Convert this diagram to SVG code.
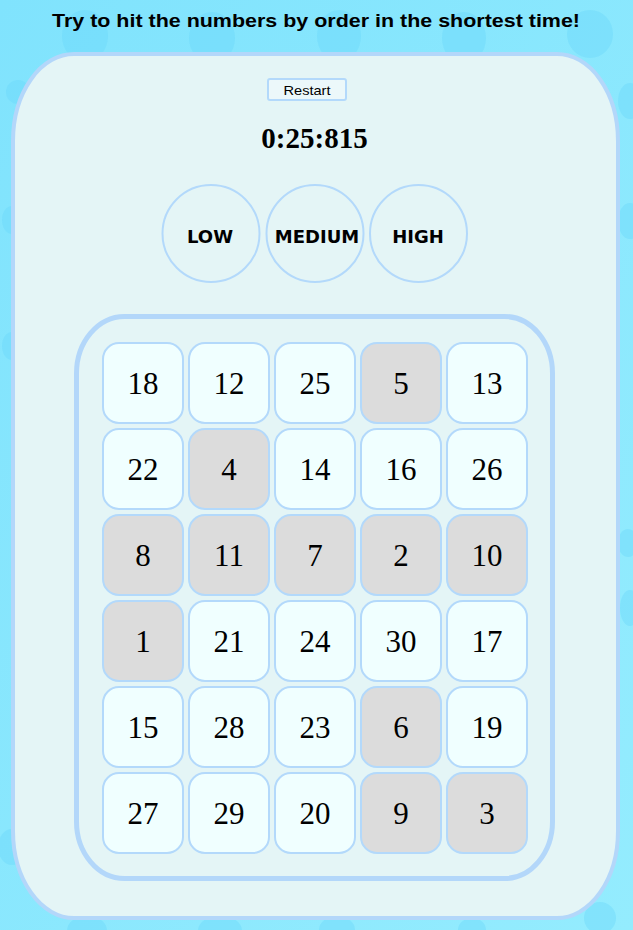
<svg xmlns="http://www.w3.org/2000/svg" width="633" height="930" viewBox="0 0 633 930">
<style>
.blob{fill:#68d6fb;opacity:0.4}
.cell rect{stroke:#b3d9fb;stroke-width:2}
.w{fill:#f0ffff}
.g{fill:#dcdcdc}
.num{font-family:"Liberation Serif","Times New Roman",serif;font-size:31px;fill:#000;text-anchor:middle}
.lvl circle{fill:none;stroke:#b3d9fb;stroke-width:2}
.lvl text{font-family:"DejaVu Sans",sans-serif;font-weight:bold;font-size:18px;fill:#000;text-anchor:middle}
</style>
<defs>
<linearGradient id="bg" x1="0" y1="0" x2="1" y2="1">
<stop offset="0" stop-color="#80e3fd"/>
<stop offset="1" stop-color="#94ecfe"/>
</linearGradient>
</defs>
<rect x="0" y="0" width="633" height="930" fill="url(#bg)"/>
<g id="background-dots">
<ellipse class="blob" cx="85" cy="36" rx="23" ry="26"/>
<ellipse class="blob" cx="212" cy="38" rx="23" ry="26"/>
<ellipse class="blob" cx="339" cy="36" rx="22" ry="26"/>
<ellipse class="blob" cx="464" cy="38" rx="22" ry="26"/>
<ellipse class="blob" cx="590" cy="34" rx="23" ry="24"/>
<ellipse class="blob" cx="18" cy="92" rx="12" ry="12"/>
<ellipse class="blob" cx="12" cy="220" rx="10" ry="14"/>
<ellipse class="blob" cx="12" cy="346" rx="10" ry="14"/>
<ellipse class="blob" cx="12" cy="847" rx="14" ry="18"/>
<ellipse class="blob" cx="630" cy="101" rx="12" ry="18"/>
<ellipse class="blob" cx="630" cy="221" rx="12" ry="18"/>
<ellipse class="blob" cx="628" cy="543" rx="10" ry="14"/>
<ellipse class="blob" cx="630" cy="608" rx="10" ry="18"/>
<ellipse class="blob" cx="87" cy="930" rx="20" ry="14"/>
<ellipse class="blob" cx="220" cy="930" rx="22" ry="14"/>
<ellipse class="blob" cx="337" cy="930" rx="18" ry="14"/>
<ellipse class="blob" cx="472" cy="930" rx="14" ry="12"/>
<ellipse class="blob" cx="600" cy="918" rx="16" ry="16"/>
</g>
<text x="316" y="27" font-family="'Comic Sans MS','Liberation Sans',sans-serif" font-weight="bold" font-size="18" text-anchor="middle" textLength="528" lengthAdjust="spacingAndGlyphs" fill="#000">Try to hit the numbers by order in the shortest time!</text>
<g id="panel">
<rect x="13" y="54" width="605" height="864" rx="61" ry="87" fill="#e4f5f6" stroke="#b3d7fa" stroke-width="4"/>
</g>
<g id="restart">
<rect x="268" y="79" width="78" height="21" rx="2" fill="#ecf8fa" stroke="#b3d9fb" stroke-width="2"/>
<text x="307" y="95" font-family="'Comic Sans MS','Liberation Sans',sans-serif" font-size="13" text-anchor="middle" textLength="47" lengthAdjust="spacingAndGlyphs" fill="#000">Restart</text>
</g>
<g id="timer">
<text x="314.5" y="148" font-family="'Liberation Serif','Times New Roman',serif" font-weight="bold" font-size="29" text-anchor="middle" fill="#000">0:25:815</text>
</g>
<g id="level-low" class="lvl"><circle cx="211" cy="233.5" r="48.5"/><text x="210" y="242.5">LOW</text></g>
<g id="level-medium" class="lvl"><circle cx="315" cy="233.5" r="48.5"/><text x="317" y="242.5">MEDIUM</text></g>
<g id="level-high" class="lvl"><circle cx="418.5" cy="233.5" r="48.5"/><text x="418" y="242.5">HIGH</text></g>
<g id="board">
<rect x="76.5" y="316.5" width="476" height="562" rx="48" ry="57" fill="none" stroke="#b3d7fa" stroke-width="5"/>
</g>
<g id="cell-18" class="cell"><rect class="w" x="103" y="343" width="80" height="80" rx="16"/><text class="num" x="143" y="394">18</text></g>
<g id="cell-12" class="cell"><rect class="w" x="189" y="343" width="80" height="80" rx="16"/><text class="num" x="229" y="394">12</text></g>
<g id="cell-25" class="cell"><rect class="w" x="275" y="343" width="80" height="80" rx="16"/><text class="num" x="315" y="394">25</text></g>
<g id="cell-5" class="cell"><rect class="g" x="361" y="343" width="80" height="80" rx="16"/><text class="num" x="401" y="394">5</text></g>
<g id="cell-13" class="cell"><rect class="w" x="447" y="343" width="80" height="80" rx="16"/><text class="num" x="487" y="394">13</text></g>
<g id="cell-22" class="cell"><rect class="w" x="103" y="429" width="80" height="80" rx="16"/><text class="num" x="143" y="480">22</text></g>
<g id="cell-4" class="cell"><rect class="g" x="189" y="429" width="80" height="80" rx="16"/><text class="num" x="229" y="480">4</text></g>
<g id="cell-14" class="cell"><rect class="w" x="275" y="429" width="80" height="80" rx="16"/><text class="num" x="315" y="480">14</text></g>
<g id="cell-16" class="cell"><rect class="w" x="361" y="429" width="80" height="80" rx="16"/><text class="num" x="401" y="480">16</text></g>
<g id="cell-26" class="cell"><rect class="w" x="447" y="429" width="80" height="80" rx="16"/><text class="num" x="487" y="480">26</text></g>
<g id="cell-8" class="cell"><rect class="g" x="103" y="515" width="80" height="80" rx="16"/><text class="num" x="143" y="566">8</text></g>
<g id="cell-11" class="cell"><rect class="g" x="189" y="515" width="80" height="80" rx="16"/><text class="num" x="229" y="566">11</text></g>
<g id="cell-7" class="cell"><rect class="g" x="275" y="515" width="80" height="80" rx="16"/><text class="num" x="315" y="566">7</text></g>
<g id="cell-2" class="cell"><rect class="g" x="361" y="515" width="80" height="80" rx="16"/><text class="num" x="401" y="566">2</text></g>
<g id="cell-10" class="cell"><rect class="g" x="447" y="515" width="80" height="80" rx="16"/><text class="num" x="487" y="566">10</text></g>
<g id="cell-1" class="cell"><rect class="g" x="103" y="601" width="80" height="80" rx="16"/><text class="num" x="143" y="652">1</text></g>
<g id="cell-21" class="cell"><rect class="w" x="189" y="601" width="80" height="80" rx="16"/><text class="num" x="229" y="652">21</text></g>
<g id="cell-24" class="cell"><rect class="w" x="275" y="601" width="80" height="80" rx="16"/><text class="num" x="315" y="652">24</text></g>
<g id="cell-30" class="cell"><rect class="w" x="361" y="601" width="80" height="80" rx="16"/><text class="num" x="401" y="652">30</text></g>
<g id="cell-17" class="cell"><rect class="w" x="447" y="601" width="80" height="80" rx="16"/><text class="num" x="487" y="652">17</text></g>
<g id="cell-15" class="cell"><rect class="w" x="103" y="687" width="80" height="80" rx="16"/><text class="num" x="143" y="738">15</text></g>
<g id="cell-28" class="cell"><rect class="w" x="189" y="687" width="80" height="80" rx="16"/><text class="num" x="229" y="738">28</text></g>
<g id="cell-23" class="cell"><rect class="w" x="275" y="687" width="80" height="80" rx="16"/><text class="num" x="315" y="738">23</text></g>
<g id="cell-6" class="cell"><rect class="g" x="361" y="687" width="80" height="80" rx="16"/><text class="num" x="401" y="738">6</text></g>
<g id="cell-19" class="cell"><rect class="w" x="447" y="687" width="80" height="80" rx="16"/><text class="num" x="487" y="738">19</text></g>
<g id="cell-27" class="cell"><rect class="w" x="103" y="773" width="80" height="80" rx="16"/><text class="num" x="143" y="824">27</text></g>
<g id="cell-29" class="cell"><rect class="w" x="189" y="773" width="80" height="80" rx="16"/><text class="num" x="229" y="824">29</text></g>
<g id="cell-20" class="cell"><rect class="w" x="275" y="773" width="80" height="80" rx="16"/><text class="num" x="315" y="824">20</text></g>
<g id="cell-9" class="cell"><rect class="g" x="361" y="773" width="80" height="80" rx="16"/><text class="num" x="401" y="824">9</text></g>
<g id="cell-3" class="cell"><rect class="g" x="447" y="773" width="80" height="80" rx="16"/><text class="num" x="487" y="824">3</text></g>
<g id="connectors"/>
</svg>
